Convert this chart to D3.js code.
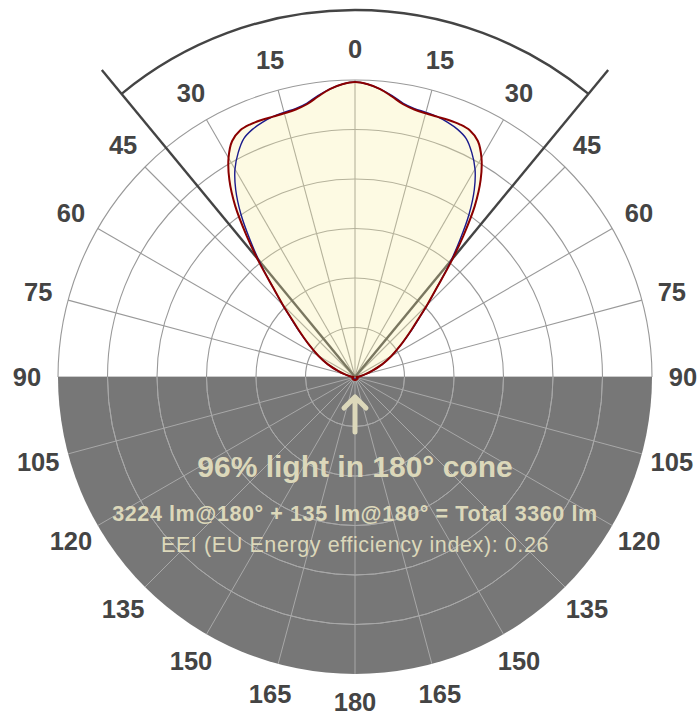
<!DOCTYPE html>
<html><head><meta charset="utf-8">
<script src="https://cdn.jsdelivr.net/npm/d3@7"></script>
<style>html,body{margin:0;padding:0;background:#fff;} svg{display:block}</style>
</head><body>
<svg id="chart" width="699" height="718"></svg>
<script>
// ---- data ----
const angles     = [0,2.5,5,7.5,10,12.5,15,17.5,20,22.5,25,27.5,30,32.5,35,37.5,40,42.5,45,47.5,50,55,60,65,70,75,80,85,90,100,120,140,160,180];
const c0Values   = [1192,1184,1168,1143,1119,1107,1103,1103,1105,1105,1099,1075,1022,945,844,719,598,489,412,347,299,226,170,121,73,44,24,12,6,12,12,12,12,12];
const c90Values  = [1192,1184,1168,1147,1123,1111,1107,1103,1095,1083,1063,1022,970,897,804,695,590,489,416,351,303,226,170,121,73,44,24,12,6,8,8,8,8,8];
const ringValues = [200,400,600,800,1000,1200];
const angleTicks = [0,15,30,45,60,75,90,105,120,135,150,165,180];
const beamHalfAngle = 39.5;
const textLines = ["96% light in 180° cone","3224 lm@180° + 135 lm@180° = Total 3360 lm","EEI (EU Energy efficiency index): 0.26"];

// ---- layout ----
const W=699,H=718,cx=355,cy=377,R=297;
const svg=d3.select("#chart");
const g=svg.append("g").attr("transform",`translate(${cx},${cy})`);
const r=d3.scaleLinear().domain([0,1200]).range([0,R]);
const rad=a=>a*Math.PI/180;
const FONT="Arial, 'Liberation Sans', Helvetica, sans-serif";

// upper half grid
const arcGen=d3.arc();
ringValues.forEach(v=>{
  g.append("path").attr("d",arcGen({innerRadius:r(v),outerRadius:r(v),startAngle:-Math.PI/2,endAngle:Math.PI/2}))
   .attr("fill","none").attr("stroke","#999").attr("stroke-width",1.1);
});
const spokes=d3.range(0,360,15);
spokes.filter(a=>a<=90||a>=270).forEach(a=>{
  g.append("line").attr("x1",0).attr("y1",0)
   .attr("x2",R*Math.sin(rad(a))).attr("y2",-R*Math.cos(rad(a)))
   .attr("stroke","#999").attr("stroke-width",1.1);
});
// lower half gray
g.append("path").attr("d",arcGen({innerRadius:0,outerRadius:R,startAngle:Math.PI/2,endAngle:3*Math.PI/2}))
 .attr("fill","#777");
ringValues.slice(0,-1).forEach(v=>{
  g.append("path").attr("d",arcGen({innerRadius:r(v),outerRadius:r(v),startAngle:Math.PI/2,endAngle:3*Math.PI/2}))
   .attr("fill","none").attr("stroke","#a8a8a8").attr("stroke-width",1);
});
spokes.filter(a=>a>90&&a<270).forEach(a=>{
  g.append("line").attr("x1",0).attr("y1",0)
   .attr("x2",R*Math.sin(rad(a))).attr("y2",-R*Math.cos(rad(a)))
   .attr("stroke","#a8a8a8").attr("stroke-width",1);
});

// beam cone lines + arc
[-beamHalfAngle,beamHalfAngle].forEach(a=>{
  g.append("line").attr("x1",0).attr("y1",0)
   .attr("x2",398*Math.sin(rad(a))).attr("y2",-398*Math.cos(rad(a)))
   .attr("stroke","#444").attr("stroke-width",2.4);
});
g.append("path").attr("d",arcGen({innerRadius:367,outerRadius:367,startAngle:rad(-beamHalfAngle),endAngle:rad(beamHalfAngle)}))
 .attr("fill","none").attr("stroke","#444").attr("stroke-width",2.4);

// curves
function fullCurve(vals){
  const pts=[];
  for(let i=angles.length-1;i>0;i--) pts.push([-angles[i],vals[i]]);
  for(let i=0;i<angles.length;i++) pts.push([angles[i],vals[i]]);
  return pts;
}
const lineR=d3.lineRadial().angle(d=>rad(d[0])).radius(d=>r(d[1])).curve(d3.curveCatmullRom.alpha(0.5));
g.append("path").attr("d",lineR(fullCurve(c0Values))+"Z").attr("fill","rgb(248,238,162)").attr("fill-opacity",0.3).attr("stroke","none");
g.append("path").attr("d",lineR(fullCurve(c90Values))).attr("fill","none").attr("stroke","#1a1a8c").attr("stroke-width",1.4);
g.append("path").attr("d",lineR(fullCurve(c0Values))).attr("fill","none").attr("stroke","#8b0000").attr("stroke-width",2);

// angle labels
angleTicks.forEach(t=>{
  const sides=(t===0||t===180)?[t]:[t,-t];
  sides.forEach(a=>{
    const lr = t===180 ? 325 : 328;
    g.append("text").attr("x",lr*Math.sin(rad(a))).attr("y",-lr*Math.cos(rad(a)))
     .attr("text-anchor","middle").attr("dominant-baseline","central")
     .attr("font-family",FONT).attr("font-weight","bold").attr("font-size",25.5).attr("fill","#444")
     .text(t);
  });
});

// arrow
g.append("path").attr("d","M0,55 L0,20 M-11,31 L0,20 L11,31")
 .attr("fill","none").attr("stroke","#dcd8ba").attr("stroke-width",5).attr("stroke-linecap","round").attr("stroke-linejoin","round");

// texts
const tcol="#dcd8ba";
svg.append("text").attr("x",cx).attr("y",477).attr("text-anchor","middle").attr("font-family",FONT)
 .attr("font-weight","bold").attr("font-size",30).attr("fill",tcol).text(textLines[0]);
svg.append("text").attr("x",cx).attr("y",521).attr("text-anchor","middle").attr("font-family",FONT)
 .attr("font-weight","bold").attr("font-size",21.5).attr("letter-spacing",0.6).attr("fill",tcol).text(textLines[1]);
svg.append("text").attr("x",cx).attr("y",552).attr("text-anchor","middle").attr("font-family",FONT)
 .attr("font-size",21.5).attr("letter-spacing",0.6).attr("fill",tcol).text(textLines[2]);
</script>
</body></html>
